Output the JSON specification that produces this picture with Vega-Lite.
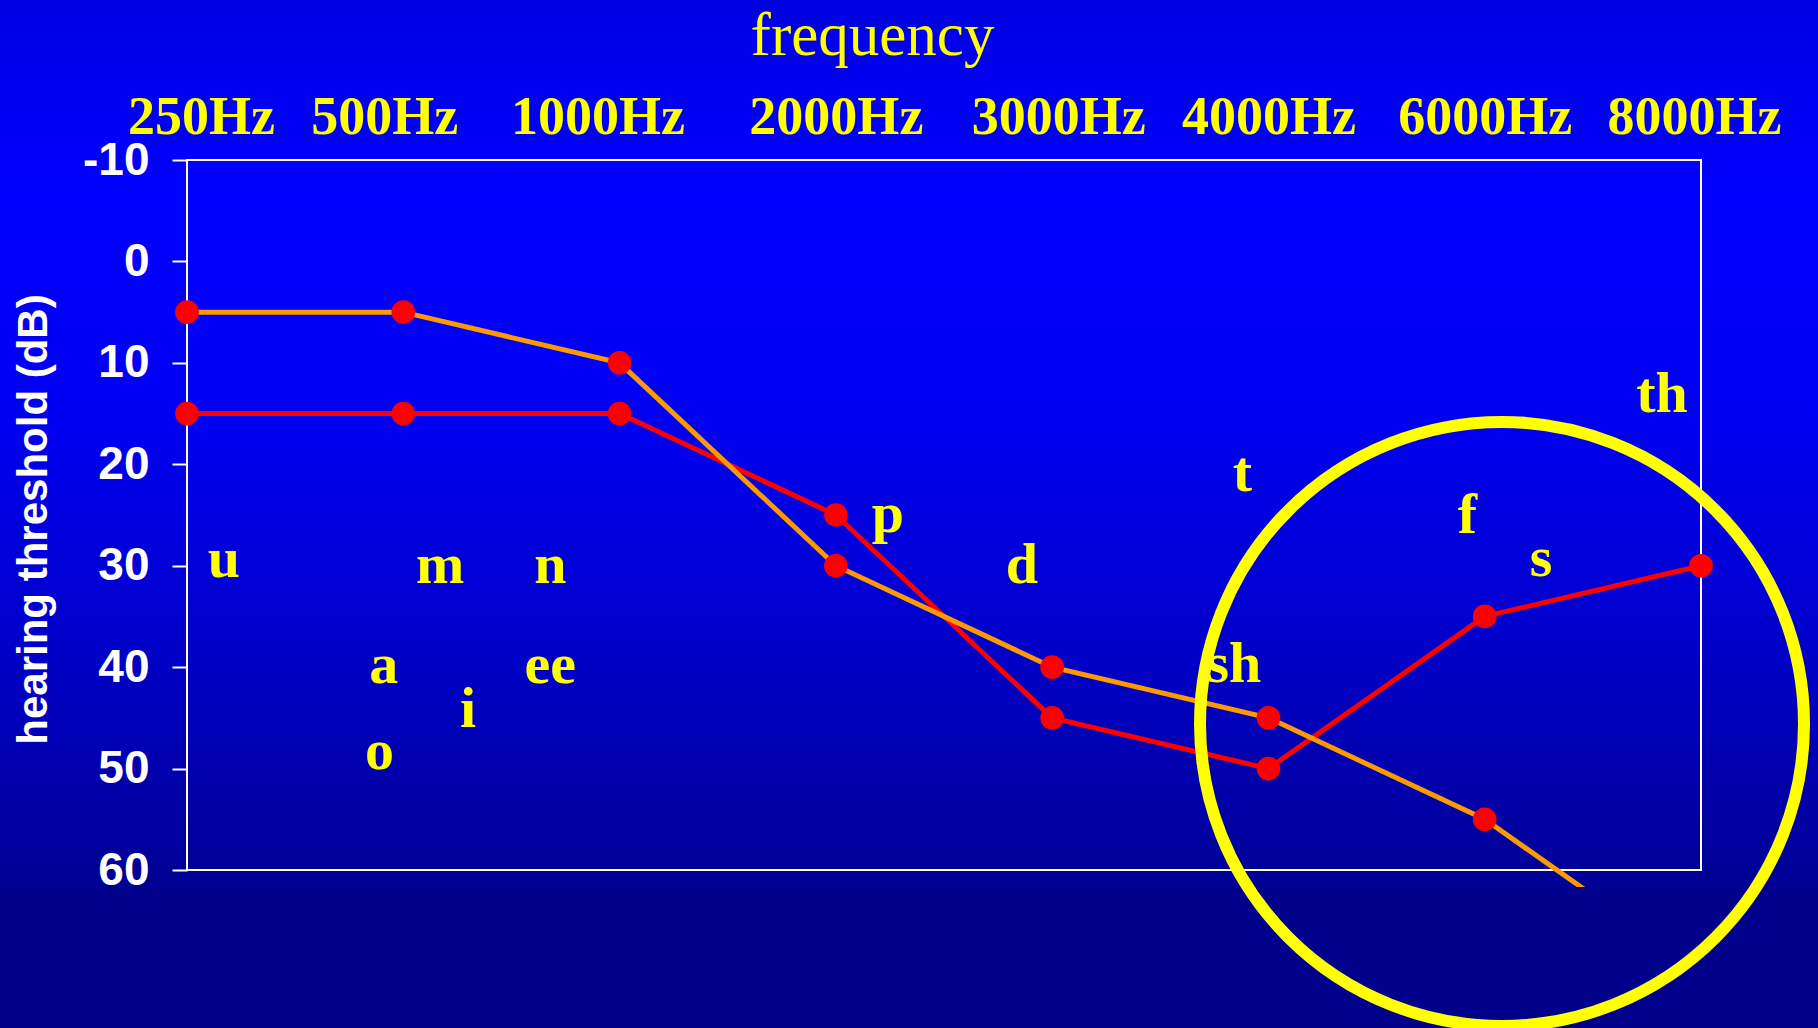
{
  "$schema": "https://vega.github.io/schema/vega-lite/v6.json",
  "width": 1818,
  "height": 887,
  "autosize": {"type": "none"},
  "padding": {"left": 0, "top": 0, "right": 0, "bottom": 141},
  "background": "#00008A",
  "config": {
    "view": {
      "stroke": null,
      "fill": {
        "gradient": "linear",
        "x1": 0, "y1": 0, "x2": 0, "y2": 1,
        "stops": [
          {"offset": 0, "color": "#0000E4"},
          {"offset": 0.22, "color": "#0000FF"},
          {"offset": 0.45, "color": "#0000F4"},
          {"offset": 0.68, "color": "#0000D2"},
          {"offset": 0.9, "color": "#0000A8"},
          {"offset": 1, "color": "#000094"}
        ]
      }
    }
  },
  "datasets": {
    "curves": [
      {"series": "series 1", "freq": "250Hz", "freqIndex": 0, "db": 15},
      {"series": "series 1", "freq": "500Hz", "freqIndex": 1, "db": 15},
      {"series": "series 1", "freq": "1000Hz", "freqIndex": 2, "db": 15},
      {"series": "series 1", "freq": "2000Hz", "freqIndex": 3, "db": 25},
      {"series": "series 1", "freq": "3000Hz", "freqIndex": 4, "db": 45},
      {"series": "series 1", "freq": "4000Hz", "freqIndex": 5, "db": 50},
      {"series": "series 1", "freq": "6000Hz", "freqIndex": 6, "db": 35},
      {"series": "series 1", "freq": "8000Hz", "freqIndex": 7, "db": 30},
      {"series": "series 2", "freq": "250Hz", "freqIndex": 0, "db": 5},
      {"series": "series 2", "freq": "500Hz", "freqIndex": 1, "db": 5},
      {"series": "series 2", "freq": "1000Hz", "freqIndex": 2, "db": 10},
      {"series": "series 2", "freq": "2000Hz", "freqIndex": 3, "db": 30},
      {"series": "series 2", "freq": "3000Hz", "freqIndex": 4, "db": 40},
      {"series": "series 2", "freq": "4000Hz", "freqIndex": 5, "db": 45},
      {"series": "series 2", "freq": "6000Hz", "freqIndex": 6, "db": 55},
      {"series": "series 2", "freq": "8000Hz", "freqIndex": 7, "db": 70}
    ],
    "sounds": [
      {"sound": "u", "freqIndex": 0.17, "db": 31.1},
      {"sound": "m", "freqIndex": 1.17, "db": 31.7},
      {"sound": "n", "freqIndex": 1.68, "db": 31.7},
      {"sound": "a", "freqIndex": 0.91, "db": 41.6},
      {"sound": "ee", "freqIndex": 1.68, "db": 41.6},
      {"sound": "i", "freqIndex": 1.3, "db": 45.9},
      {"sound": "o", "freqIndex": 0.89, "db": 50.0},
      {"sound": "p", "freqIndex": 3.24, "db": 26.7},
      {"sound": "d", "freqIndex": 3.86, "db": 31.7},
      {"sound": "t", "freqIndex": 4.88, "db": 22.6},
      {"sound": "sh", "freqIndex": 4.84, "db": 41.5},
      {"sound": "f", "freqIndex": 5.92, "db": 26.8},
      {"sound": "s", "freqIndex": 6.26, "db": 31.0},
      {"sound": "th", "freqIndex": 6.82, "db": 14.8}
    ],
    "highlight": [
      {"note": "high-frequency sounds", "freqIndex": 6.08, "db": 45.6}
    ]
  },
  "layer": [
    {
      "data": {"values": [{"frame": "plot area"}]},
      "mark": {"type": "rect", "filled": false, "fill": null, "stroke": "#FFFFFF", "strokeWidth": 2},
      "encoding": {
        "x": {
          "datum": 0,
          "type": "quantitative",
          "scale": {"domain": [0, 7], "range": [187, 1701], "nice": false, "zero": false},
          "axis": {
            "orient": "top",
            "offset": -160,
            "values": [0, 1, 2, 3, 4, 5, 6, 7],
            "labelExpr": "['250Hz','500Hz','1000Hz','2000Hz','3000Hz','4000Hz','6000Hz','8000Hz'][datum.value]",
            "labelOffset": {
              "condition": [
                {"test": "datum.value === 0", "value": 14},
                {"test": "datum.value === 1", "value": -19},
                {"test": "datum.value === 2", "value": -22},
                {"test": "datum.value === 4", "value": 6},
                {"test": "datum.value === 7", "value": -7}
              ],
              "value": 0
            },
            "ticks": false,
            "tickSize": 0,
            "labelPadding": 27,
            "labelBaseline": "alphabetic",
            "labelAngle": 0,
            "labelFont": "Liberation Serif",
            "labelFontWeight": "bold",
            "labelFontSize": 54,
            "labelColor": "#FFFF00",
            "labelFlush": false,
            "labelOverlap": false,
            "domain": false,
            "grid": false,
            "title": "frequency",
            "titleFont": "Liberation Serif",
            "titleFontWeight": "normal",
            "titleFontSize": 61,
            "titleColor": "#FFFF00",
            "titleX": 872,
            "titleY": -106,
            "titleAlign": "center",
            "titleBaseline": "alphabetic"
          }
        },
        "x2": {"datum": 7},
        "y": {
          "datum": -10,
          "type": "quantitative",
          "scale": {"domain": [-10, 60], "range": [160, 870], "nice": false, "zero": false},
          "axis": {
            "orient": "left",
            "offset": -187,
            "values": [-10, 0, 10, 20, 30, 40, 50, 60],
            "labelExpr": "'' + datum.value",
            "tickSize": 15,
            "tickColor": "#FFFFFF",
            "tickWidth": 2,
            "labelPadding": 23,
            "labelFont": "Liberation Sans",
            "labelFontWeight": "bold",
            "labelFontSize": 46,
            "labelColor": "#FFFFFF",
            "labelBaseline": "middle",
            "labelFlush": false,
            "labelOverlap": false,
            "domain": false,
            "grid": false,
            "title": "hearing threshold (dB)",
            "titleFont": "Liberation Sans",
            "titleFontWeight": "bold",
            "titleFontSize": 42,
            "titleColor": "#FFFFFF",
            "titleAngle": -90,
            "titleX": -141,
            "titleY": 519,
            "titleAlign": "center",
            "titleBaseline": "alphabetic"
          }
        },
        "y2": {"datum": 60}
      }
    },
    {
      "data": {"name": "curves"},
      "mark": {"type": "line", "strokeWidth": 5, "clip": true},
      "encoding": {
        "x": {"field": "freqIndex", "type": "quantitative"},
        "y": {"field": "db", "type": "quantitative"},
        "color": {
          "field": "series",
          "type": "nominal",
          "scale": {"domain": ["series 1", "series 2"], "range": ["#FF0000", "#FF9900"]},
          "legend": null
        }
      }
    },
    {
      "data": {"name": "curves"},
      "transform": [{"filter": "datum.db <= 60"}],
      "mark": {"type": "point", "shape": "circle", "filled": true, "size": 560, "color": "#FF0000", "opacity": 1, "strokeWidth": 0},
      "encoding": {
        "x": {"field": "freqIndex", "type": "quantitative"},
        "y": {"field": "db", "type": "quantitative"}
      }
    },
    {
      "data": {"name": "sounds"},
      "mark": {"type": "text", "font": "Liberation Serif", "fontWeight": "bold", "fontSize": 58, "color": "#FFFF00", "align": "center", "baseline": "alphabetic"},
      "encoding": {
        "x": {"field": "freqIndex", "type": "quantitative"},
        "y": {"field": "db", "type": "quantitative"},
        "text": {"field": "sound", "type": "nominal"}
      }
    },
    {
      "data": {"name": "highlight"},
      "mark": {"type": "point", "shape": "circle", "filled": false, "size": 364816, "stroke": "#FFFF00", "strokeWidth": 12, "opacity": 1},
      "encoding": {
        "x": {"field": "freqIndex", "type": "quantitative"},
        "y": {"field": "db", "type": "quantitative"}
      }
    }
  ]
}
